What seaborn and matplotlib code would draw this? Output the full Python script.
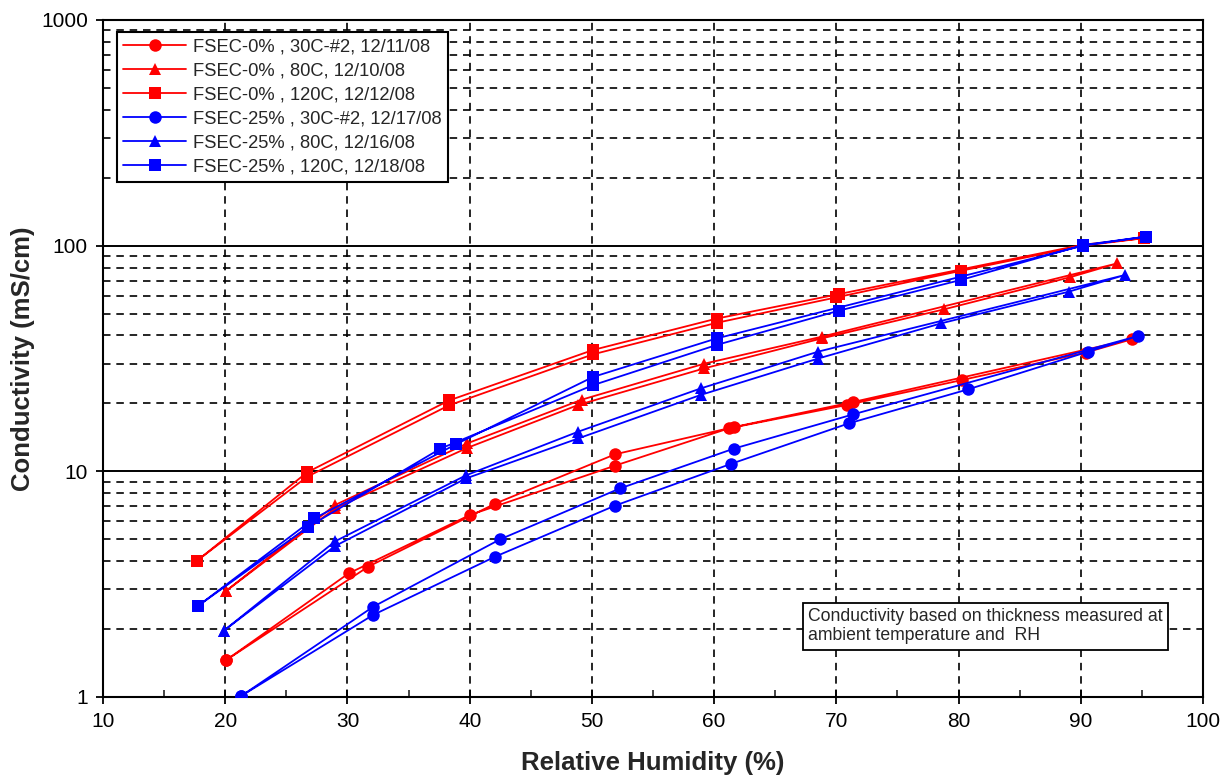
import matplotlib
matplotlib.use("Agg")
import matplotlib.pyplot as plt
import matplotlib.ticker as mticker
import numpy as np
import pandas as pd
import seaborn as sns

# Relative humidity sweeps (up then back down) and conductivity (mS/cm)
rh_0_30 = [20.1, 30.1, 40.0, 51.9, 61.2, 70.9, 80.3, 90.4, 94.2,
           71.4, 61.6, 51.9, 42.1, 31.7, 20.1]
sig_0_30 = [1.46, 3.53, 6.4, 10.6, 15.5, 19.7, 25.4, 33.6, 38.5,
            20.3, 15.7, 11.9, 7.2, 3.78, 1.46]

rh_0_80 = [20.1, 29.0, 39.8, 48.9, 59.2, 68.8, 78.8, 89.1, 93.0,
           68.8, 59.2, 49.2, 39.8, 29.0, 20.1]
sig_0_80 = [2.96, 6.86, 12.7, 19.7, 28.6, 38.8, 52.2, 72.4, 83.5,
            39.5, 30.0, 20.8, 13.3, 7.1, 2.96]

rh_0_120 = [17.7, 26.7, 38.3, 50.1, 60.2, 70.0, 80.2, 90.2, 95.2,
            90.2, 70.2, 60.2, 50.1, 38.3, 26.7, 17.7]
sig_0_120 = [4.02, 9.46, 19.6, 33.0, 45.5, 59.0, 77.4, 100.0, 108.0,
             101.0, 61.0, 47.5, 34.5, 20.6, 9.9, 4.02]

rh_25_30 = [21.3, 32.1, 42.1, 51.9, 61.4, 71.0, 80.8, 90.6, 94.7,
            71.4, 61.6, 52.3, 42.5, 32.1, 21.3]
sig_25_30 = [1.01, 2.31, 4.19, 7.05, 10.8, 16.3, 23.1, 33.9, 39.8,
             17.9, 12.6, 8.4, 5.0, 2.51, 1.01]

rh_25_80 = [19.9, 29.0, 39.7, 48.9, 58.9, 68.5, 78.6, 89.0, 93.6,
            68.5, 58.9, 48.9, 39.7, 29.0, 19.9]
sig_25_80 = [1.97, 4.67, 9.3, 14.0, 21.8, 31.6, 45.3, 62.5, 74.1,
             33.9, 23.3, 15.0, 9.6, 4.9, 1.97]

rh_25_120 = [17.8, 26.8, 37.6, 50.1, 60.2, 70.2, 80.2, 90.2, 95.3,
             90.2, 60.2, 50.1, 38.9, 27.3, 17.8]
sig_25_120 = [2.54, 5.68, 12.6, 24.1, 36.3, 51.5, 70.5, 100.6, 109.6,
              100.0, 38.8, 26.2, 13.2, 6.19, 2.54]

labels = [
    "FSEC-0% , 30C-#2, 12/11/08",
    "FSEC-0% , 80C, 12/10/08",
    "FSEC-0% , 120C, 12/12/08",
    "FSEC-25% , 30C-#2, 12/17/08",
    "FSEC-25% , 80C, 12/16/08",
    "FSEC-25% , 120C, 12/18/08",
]
series_rh = [rh_0_30, rh_0_80, rh_0_120, rh_25_30, rh_25_80, rh_25_120]
series_sig = [sig_0_30, sig_0_80, sig_0_120, sig_25_30, sig_25_80, sig_25_120]
colors = ["#ff0000", "#ff0000", "#ff0000", "#0000ff", "#0000ff", "#0000ff"]
markers = ["o", "^", "s", "o", "^", "s"]

x_ticks = [10, 20, 30, 40, 50, 60, 70, 80, 90, 100]
y_ticks = [1, 10, 100, 1000]

sns.set_theme(style="white")
plt.rcParams["font.family"] = ["Liberation Sans", "DejaVu Sans"]

fig = plt.figure(figsize=(12.31, 7.84), dpi=100)
ax = fig.add_axes([0.0837, 0.111, 0.8936, 0.8635])

for rh, sig, lab, col, mk in zip(series_rh, series_sig, labels, colors, markers):
    df = pd.DataFrame({"rh": rh, "sig": sig})
    sns.lineplot(data=df, x="rh", y="sig", sort=False, estimator=None,
                 color=col, marker=mk, markersize=9, markeredgewidth=0,
                 linewidth=1.3, label=lab, ax=ax, zorder=3)

ax.set_yscale("log")
ax.set_xlim(10, 100)
ax.set_ylim(1, 1000)
ax.set_xticks(x_ticks)
ax.set_xticklabels([str(v) for v in x_ticks])
ax.set_yticks(y_ticks)
ax.set_yticklabels([str(v) for v in y_ticks])
ax.xaxis.set_minor_locator(mticker.MultipleLocator(5))
ax.yaxis.set_minor_locator(mticker.LogLocator(base=10, subs=np.arange(2, 10)))
ax.yaxis.set_minor_formatter(mticker.NullFormatter())

# grid: solid decades, dashed minor decades and dashed RH lines
ax.grid(False)
ax.yaxis.grid(True, which="major", color="black", linestyle="-", linewidth=1.4, zorder=1)
ax.yaxis.grid(True, which="minor", color="black", linestyle=(0, (4.5, 3.5)), linewidth=1.2, zorder=1)
ax.xaxis.grid(True, which="major", color="black", linestyle=(0, (4.5, 3.5)), linewidth=1.2, zorder=1)
ax.set_axisbelow(True)

for sp in ax.spines.values():
    sp.set_color("black")
    sp.set_linewidth(1.5)

ax.tick_params(axis="both", which="major", direction="inout", length=10, width=1.3,
               colors="black", labelsize=15, pad=6)
ax.tick_params(axis="x", which="minor", direction="in", length=5, width=1.2, bottom=True)
ax.tick_params(axis="y", which="minor", left=False)
ax.tick_params(axis="x", which="major", bottom=True)
ax.tick_params(axis="y", which="major", left=True)

ax.set_xlabel("Relative Humidity (%)", fontsize=18.5, fontweight="bold", labelpad=14)
ax.set_ylabel("Conductivity (mS/cm)", fontsize=18.5, fontweight="bold", labelpad=4)

leg = ax.legend(loc="upper left", bbox_to_anchor=(0.0127, 0.982), frameon=True,
                fancybox=False, fontsize=13.2, handlelength=3.4, labelspacing=0.38,
                borderpad=0.35, handletextpad=0.4, borderaxespad=0)
leg.get_frame().set_edgecolor("black")
leg.get_frame().set_linewidth(1.5)
leg.get_frame().set_facecolor("white")
leg.get_frame().set_alpha(1)
leg.set_zorder(5)

ax.text(0.641, 0.131,
        "Conductivity based on thickness measured at\nambient temperature and  RH",
        transform=ax.transAxes, ha="left", va="top", fontsize=12.7, linespacing=1.15,
        bbox=dict(boxstyle="square,pad=0.3", facecolor="white", edgecolor="black",
                  linewidth=1.3), zorder=5)

fig.savefig("out.png", dpi=100)
